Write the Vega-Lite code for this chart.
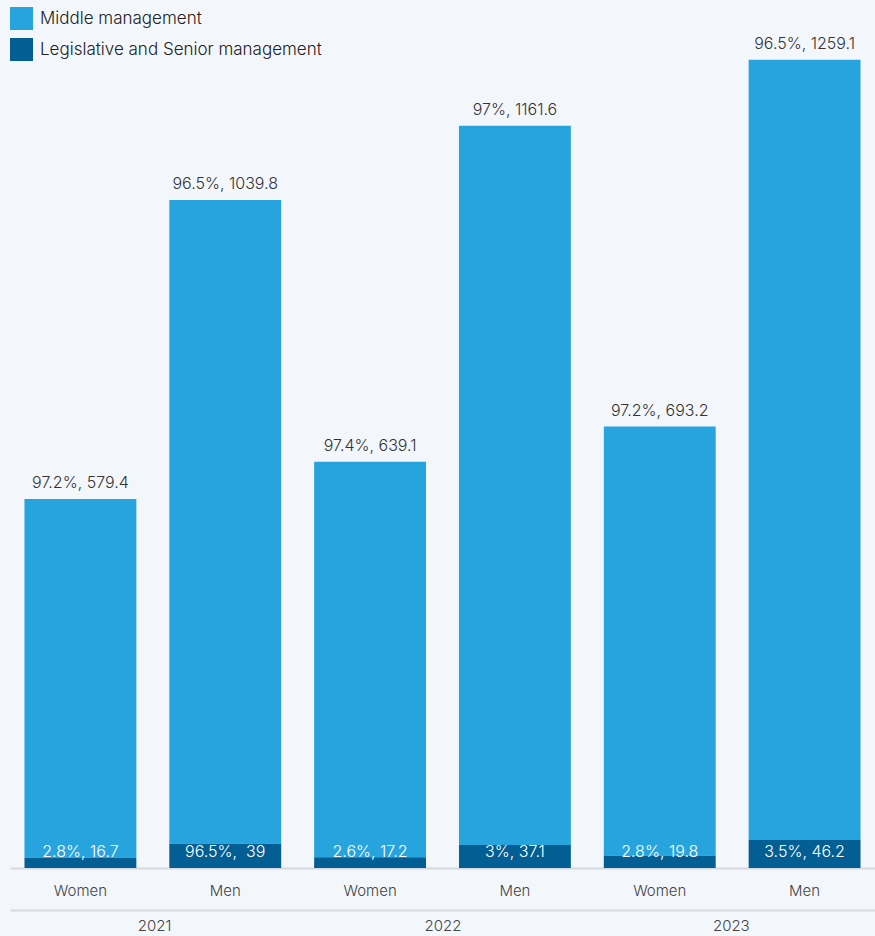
{
  "$schema": "https://vega.github.io/schema/vega-lite/v6.json",
  "width": 865,
  "height": 868,
  "autosize": "none",
  "padding": {"left": 10, "top": 0, "right": 0, "bottom": 68},
  "background": "#f3f7fc",
  "config": {
    "view": {"stroke": null},
    "font": "Inter",
    "text": {"font": "Inter"},
    "axis": {"labelFont": "Inter", "labelColor": "#444444", "labelFontSize": 15, "labelFontWeight": 300}
  },
  "data": {
    "values": [
      {"year": "2021", "gender": "Women", "key": "2021 Women", "category": "Middle management", "level": 2, "value": 579.4, "label": "97.2%, 579.4"},
      {"year": "2021", "gender": "Women", "key": "2021 Women", "category": "Legislative and Senior management", "level": 1, "value": 16.7, "label": "2.8%, 16.7"},
      {"year": "2021", "gender": "Men", "key": "2021 Men", "category": "Middle management", "level": 2, "value": 1039.8, "label": "96.5%, 1039.8"},
      {"year": "2021", "gender": "Men", "key": "2021 Men", "category": "Legislative and Senior management", "level": 1, "value": 39, "label": "96.5%, \u00a039"},
      {"year": "2022", "gender": "Women", "key": "2022 Women", "category": "Middle management", "level": 2, "value": 639.1, "label": "97.4%, 639.1"},
      {"year": "2022", "gender": "Women", "key": "2022 Women", "category": "Legislative and Senior management", "level": 1, "value": 17.2, "label": "2.6%, 17.2"},
      {"year": "2022", "gender": "Men", "key": "2022 Men", "category": "Middle management", "level": 2, "value": 1161.6, "label": "97%, 1161.6"},
      {"year": "2022", "gender": "Men", "key": "2022 Men", "category": "Legislative and Senior management", "level": 1, "value": 37.1, "label": "3%, 37.1"},
      {"year": "2023", "gender": "Women", "key": "2023 Women", "category": "Middle management", "level": 2, "value": 693.2, "label": "97.2%, 693.2"},
      {"year": "2023", "gender": "Women", "key": "2023 Women", "category": "Legislative and Senior management", "level": 1, "value": 19.8, "label": "2.8%, 19.8"},
      {"year": "2023", "gender": "Men", "key": "2023 Men", "category": "Middle management", "level": 2, "value": 1259.1, "label": "96.5%, 1259.1"},
      {"year": "2023", "gender": "Men", "key": "2023 Men", "category": "Legislative and Senior management", "level": 1, "value": 46.2, "label": "3.5%, 46.2"}
    ]
  },
  "resolve": {"scale": {"x": "independent"}, "axis": {"x": "independent"}},
  "layer": [
    {
      "layer": [
        {
          "mark": {"type": "bar"},
          "encoding": {
            "x": {
              "field": "key", "type": "nominal", "sort": null,
              "scale": {"paddingInner": 0.2276, "paddingOuter": 0.1},
              "axis": {
                "title": null, "orient": "bottom", "ticks": false, "labelAngle": 0,
                "labelPadding": 15, "labelExpr": "split(datum.label, ' ')[1]",
                "domainColor": "#d5dae0", "domainWidth": 2, "grid": false
              }
            },
            "y": {
              "field": "value", "type": "quantitative", "stack": "zero",
              "scale": {"domain": [0, 1402], "nice": false}, "axis": null
            },
            "color": {
              "field": "category", "type": "nominal",
              "scale": {"domain": ["Middle management", "Legislative and Senior management"], "range": ["#27a3de", "#035e93"]},
              "legend": {
                "title": null, "orient": "none", "legendX": 0, "legendY": 7,
                "symbolType": "square", "symbolSize": 529, "symbolStrokeWidth": 0,
                "labelFontSize": 17, "labelFont": "Inter", "labelFontWeight": 300, "labelColor": "#222222",
                "labelOffset": 7, "rowPadding": 8, "labelLimit": 500
              }
            },
            "order": {"field": "level", "type": "quantitative"}
          }
        },
        {
          "transform": [
            {"joinaggregate": [{"op": "sum", "field": "value", "as": "total"}], "groupby": ["key"]},
            {"filter": "datum.category === 'Middle management'"}
          ],
          "mark": {"type": "text", "dy": -16, "fontSize": 16, "fontWeight": 300, "color": "#333333", "baseline": "middle"},
          "encoding": {
            "x": {"field": "key", "type": "nominal", "sort": null},
            "y": {"field": "total", "type": "quantitative"},
            "text": {"field": "label"}
          }
        },
        {
          "transform": [{"filter": "datum.category !== 'Middle management'"}],
          "mark": {"type": "text", "dy": -16, "fontSize": 16, "fontWeight": 300, "color": "#ffffff", "baseline": "middle"},
          "encoding": {
            "x": {"field": "key", "type": "nominal", "sort": null},
            "y": {"datum": 0, "type": "quantitative"},
            "text": {"field": "label"}
          }
        }
      ]
    },
    {
      "mark": {"type": "text", "opacity": 0},
      "encoding": {
        "x": {
          "field": "year", "type": "nominal",
          "scale": {"paddingInner": 0, "paddingOuter": 0},
          "axis": {
            "title": null, "orient": "bottom", "offset": 42, "ticks": false, "labelAngle": 0,
            "labelPadding": 8, "domainColor": "#d5dae0", "domainWidth": 2, "grid": false
          }
        },
        "text": {"field": "year"}
      }
    }
  ]
}
